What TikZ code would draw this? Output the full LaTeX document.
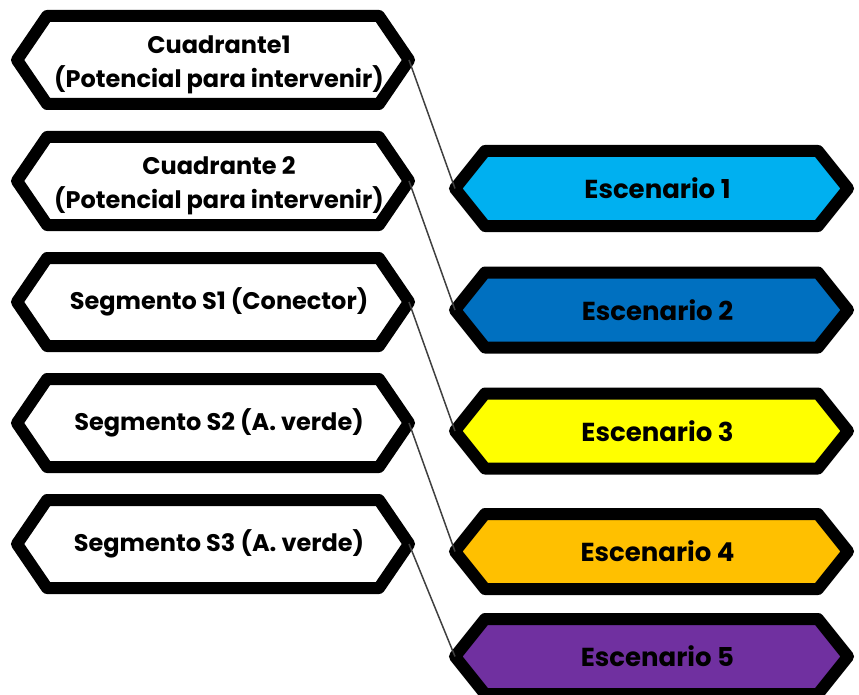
\documentclass[tikz,border=0pt]{standalone}
\usepackage{fontspec}
\setmainfont{Poppins}
\definecolor{esc1}{HTML}{00B0F0}
\definecolor{esc2}{HTML}{0070C0}
\definecolor{esc3}{HTML}{FFFF00}
\definecolor{esc4}{HTML}{FFC000}
\definecolor{esc5}{HTML}{7030A0}
\definecolor{linkgray}{HTML}{404040}
\newcommand\hexbox[9]{%
  \draw[hexline,fill=#7,shift={(#2,#3)}] (-#4,0) -- (-#4+#6,-#5) -- (#4-#6,-#5) -- (#4,0) -- (#4-#6,#5) -- (-#4+#6,#5) -- cycle;
  \coordinate (#1-w) at (#2-#4,#3);
  \coordinate (#1-e) at (#2+#4,#3);
  \node[#8] (#1) at (#2+6,#3) {#9};
}
\begin{document}
\begin{tikzpicture}[x=1pt,y=-1pt,
  hexline/.style={draw=black,line width=12pt,line join=round},
  lefttext/.style={align=center,inner sep=0pt,font=\bfseries\fontsize{24}{34}\selectfont},
  lefttwo/.style={lefttext,yshift=-5pt},
  righttext/.style={align=center,inner sep=0pt,font=\bfseries\fontsize{26}{30}\selectfont},
  link/.style={draw=linkgray,line width=1.5pt}]
\useasboundingbox (0,0) rectangle (859,695);
% left column
\hexbox{L1}{213}{60}{196}{44}{30}{white}{lefttwo}{Cuadrante1\\(Potencial para intervenir)}
\hexbox{L2}{213}{181}{196}{44}{30}{white}{lefttwo}{Cuadrante 2\\(Potencial para intervenir)}
\hexbox{L3}{213}{302}{196}{44}{30}{white}{lefttext}{Segmento S1 (Conector)}
\hexbox{L4}{213}{423}{196}{44}{30}{white}{lefttext}{Segmento S2 (A. verde)}
\hexbox{L5}{213}{544}{196}{44}{30}{white}{lefttext}{Segmento S3 (A. verde)}
% right column
\hexbox{R1}{651.5}{188.5}{196.5}{37.5}{30}{esc1}{righttext}{Escenario 1}
\hexbox{R2}{651.5}{310}{196.5}{37.5}{30}{esc2}{righttext}{Escenario 2}
\hexbox{R3}{651.5}{431}{196.5}{37.5}{30}{esc3}{righttext}{Escenario 3}
\hexbox{R4}{651.5}{551.5}{196.5}{37.5}{30}{esc4}{righttext}{Escenario 4}
\hexbox{R5}{651.5}{656.5}{196.5}{37.5}{30}{esc5}{righttext}{Escenario 5}
% connectors
\foreach \i in {1,...,5}{\draw[link] (L\i-e) -- (R\i-w);}
\end{tikzpicture}
\end{document}
